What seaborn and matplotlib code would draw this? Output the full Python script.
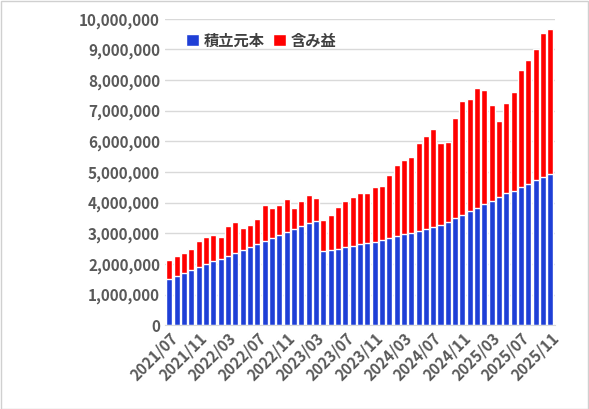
import matplotlib
matplotlib.use("Agg")
import matplotlib.pyplot as plt
import pandas as pd
import seaborn as sns
from matplotlib.ticker import FuncFormatter

months = pd.date_range("2021-07-01", "2025-11-01", freq="MS").strftime("%Y/%m").tolist()

# values in million yen
principal = [1.50, 1.61, 1.70, 1.80, 1.89, 2.00, 2.09, 2.15, 2.26, 2.35,
             2.46, 2.54, 2.65, 2.74, 2.85, 2.93, 3.04, 3.13, 3.24, 3.33,
             3.39, 2.41, 2.46, 2.48, 2.54, 2.60, 2.66, 2.68, 2.73, 2.79,
             2.86, 2.92, 2.99, 3.01, 3.08, 3.14, 3.21, 3.27, 3.38, 3.51,
             3.60, 3.73, 3.84, 3.97, 4.06, 4.17, 4.30, 4.38, 4.51, 4.62,
             4.75, 4.84, 4.95]
total = [2.12, 2.25, 2.35, 2.48, 2.74, 2.87, 2.93, 2.87, 3.23, 3.36,
         3.16, 3.26, 3.46, 3.91, 3.82, 3.91, 4.11, 3.82, 4.04, 4.24,
         4.14, 3.42, 3.59, 3.85, 4.04, 4.19, 4.32, 4.32, 4.51, 4.55,
         4.91, 5.23, 5.40, 5.50, 5.95, 6.18, 6.41, 5.95, 5.99, 6.77,
         7.33, 7.39, 7.75, 7.69, 7.20, 6.67, 7.26, 7.62, 8.34, 8.64,
         9.00, 9.55, 9.68]

df = pd.DataFrame({
    "month": months,
    "principal": [v * 1e6 for v in principal],
    "total": [v * 1e6 for v in total],
})

sns.set_style("white")
plt.rcParams["font.family"] = ["Noto Sans CJK JP", "DejaVu Sans"]

fig = plt.figure(figsize=(5.89, 4.09), dpi=100)
fig.patches.append(plt.Rectangle((0.001, 0.001), 0.997, 0.997, transform=fig.transFigure,
                                 fill=False, edgecolor="#d0d0d0", linewidth=1))
ax = fig.add_axes([0.28, 0.205, 0.662, 0.749])

sns.barplot(data=df, x="month", y="total", color="#ff0000", width=0.82,
            saturation=1, ax=ax, label="含み益")
sns.barplot(data=df, x="month", y="principal", color="#1f3fd6", width=0.82,
            saturation=1, ax=ax, label="積立元本")

ax.set_ylim(0, 10e6)
ax.set_yticks(range(0, 10_000_001, 1_000_000))
ax.yaxis.set_major_formatter(FuncFormatter(lambda v, p: f"{int(v):,}"))
ax.set_xticks(range(0, len(months), 4))
ax.set_xticklabels(months[::4], rotation=45, ha="right", rotation_mode="anchor")
ax.set_xlim(-0.6, len(months) - 0.4)
ax.tick_params(axis="both", labelsize=11, colors="#595959", length=0)
for lbl in ax.get_xticklabels() + ax.get_yticklabels():
    lbl.set_fontweight("bold")
ax.grid(axis="y", color="#d9d9d9", linewidth=1)
ax.set_axisbelow(True)
ax.set_xlabel("")
ax.set_ylabel("")
sns.despine(ax=ax, left=True)
ax.spines["bottom"].set_color("#d9d9d9")

h, l = ax.get_legend_handles_labels()
leg = ax.legend(h[::-1], l[::-1], loc="upper left", bbox_to_anchor=(0.02, 1.0),
                ncol=2, frameon=False, handlelength=0.8, handleheight=0.8,
                handletextpad=0.3, columnspacing=0.6,
                prop={"size": 11, "weight": "bold"})
for t in leg.get_texts():
    t.set_color("#404040")

fig.savefig("out.png", dpi=100)
